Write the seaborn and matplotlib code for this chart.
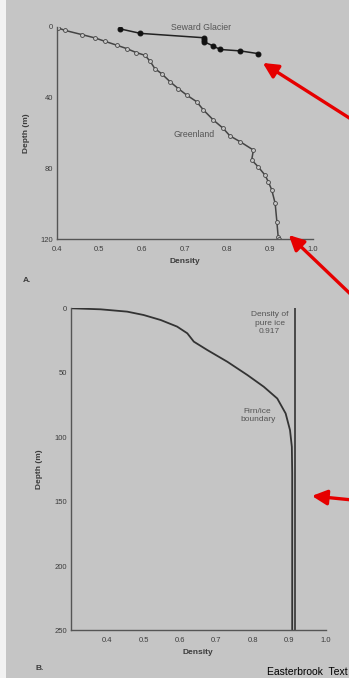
import numpy as np
import matplotlib.pyplot as plt
import seaborn as sns
import pandas as pd
from matplotlib.patches import Rectangle

# --Panel A : Greenland profile (open circles)
gl_density = [0.404, 0.419, 0.459, 0.490, 0.513, 0.541, 0.564, 0.587, 0.607, 0.619,
              0.630, 0.646, 0.666, 0.685, 0.705, 0.728, 0.744, 0.767, 0.790, 0.806,
              0.830, 0.861, 0.857, 0.872, 0.888, 0.896, 0.904, 0.912, 0.916, 0.919,
              0.920]
gl_depth = [0.6, 1.9, 4.3, 6.2, 8.1, 10.3, 12.2, 14.5, 16.0, 19.4,
            23.5, 26.4, 31.0, 34.8, 38.5, 42.2, 46.9, 52.5, 57.2, 61.5,
            64.8, 69.5, 75.1, 78.9, 83.6, 87.4, 92.0, 99.6, 109.9, 118.4,
            120.0]

# --Panel A : Seward Glacier profile (filled circles)
sw_density = [0.549, 0.596, 0.746, 0.746, 0.746, 0.766, 0.783, 0.830, 0.871]
sw_depth = [1.1, 3.6, 6.1, 7.4, 8.4, 10.6, 12.7, 13.5, 15.0]

# --Panel B : smooth firn curve
fb_density = [0.301, 0.382, 0.455, 0.500, 0.547, 0.592, 0.620, 0.638, 0.675, 0.730,
              0.785, 0.830, 0.867, 0.890, 0.902, 0.907, 0.908, 0.908]
fb_depth = [0, 0.8, 2.6, 5.2, 9.1, 14.2, 19.4, 25.9, 32.4, 41.5,
            51.8, 60.9, 70.0, 81.6, 94.6, 107.5, 128, 250]
ice_density = 0.917

a_xticks = [0.4, 0.5, 0.6, 0.7, 0.8, 0.9, 1.0]
a_yticks = [0, 40, 80, 120]
b_xticks = [0.4, 0.5, 0.6, 0.7, 0.8, 0.9, 1.0]
b_yticks = [0, 50, 100, 150, 200, 250]
b_yminor = list(range(0, 251, 10))

bg = "#c5c5c5"
ink = "#3c3c3c"

sns.set_style("white")
plt.rcParams["font.family"] = ["Liberation Sans", "DejaVu Sans"]
plt.rcParams["axes.edgecolor"] = "#555555"
plt.rcParams["axes.linewidth"] = 1.0
plt.rcParams["xtick.color"] = "#555555"
plt.rcParams["ytick.color"] = "#555555"
plt.rcParams["xtick.labelcolor"] = ink
plt.rcParams["ytick.labelcolor"] = ink

gl = pd.DataFrame({"density": gl_density, "depth": gl_depth})
sw = pd.DataFrame({"density": sw_density, "depth": sw_depth})
fb = pd.DataFrame({"density": fb_density, "depth": fb_depth})

fig = plt.figure(figsize=(3.49, 6.78), dpi=100, facecolor=bg)
fig.add_artist(Rectangle((0, 0), 6 / 349, 1, transform=fig.transFigure,
                         facecolor="#f2f2f2", edgecolor="none"))


def style_axes(ax):
    #   common look of both panels
    ax.set_facecolor(bg)
    sns.despine(ax=ax)
    ax.tick_params(direction="in", length=4, width=0.9, labelsize=5.5)
    ax.tick_params(axis="y", pad=2.5)
    ax.tick_params(axis="x", pad=4.5)


###     --Panel A
axA = fig.add_axes([0.1625, 0.6468, 0.7335, 0.3134])
sns.lineplot(data=gl, x="density", y="depth", ax=axA, sort=False, estimator=None,
             color="#444444", lw=1.1, marker="o", markersize=2.8,
             markerfacecolor=bg, markeredgecolor="#444444", markeredgewidth=0.6)
sns.lineplot(data=sw, x="density", y="depth", ax=axA, sort=False, estimator=None,
             color="#222222", lw=1.1, marker="o", markersize=3.5,
             markerfacecolor="#111111", markeredgecolor="#111111")
axA.set_xlim(0.4, 1.0)
axA.set_ylim(120, 0)
axA.set_xticks(a_xticks)
axA.set_xticklabels([f"{v:.1f}" for v in a_xticks])
axA.set_yticks(a_yticks)
style_axes(axA)
axA.set_xlabel("Density", fontsize=6, fontweight="bold", color=ink, labelpad=4)
axA.set_ylabel("Depth (m)", fontsize=6, fontweight="bold", color=ink, labelpad=8)
axA.text(0.739, 0.4, "Seward Glacier", fontsize=6.3, color="#555555", ha="center", va="center")
axA.text(0.723, 61, "Greenland", fontsize=6.3, color="#555555", ha="center", va="center")

###     --Panel B
axB = fig.add_axes([0.2026, 0.0701, 0.7307, 0.4752])
sns.lineplot(data=fb, x="density", y="depth", ax=axB, sort=False, estimator=None,
             color="#333333", lw=1.3)
axB.axvline(ice_density, color="#333333", lw=1.2)
axB.set_xlim(0.3, 1.0)
axB.set_ylim(250, 0)
axB.set_xticks(b_xticks)
axB.set_xticklabels([f"{v:.1f}" for v in b_xticks])
axB.set_yticks(b_yticks)
axB.set_yticks(b_yminor, minor=True)
style_axes(axB)
axB.tick_params(which="minor", direction="in", length=4, width=0.9)
axB.set_xlabel("Density", fontsize=6, fontweight="bold", color=ink, labelpad=4)
axB.set_ylabel("Depth (m)", fontsize=6, fontweight="bold", color=ink, labelpad=8)
axB.text(0.846, 11.6, "Density of\npure ice\n0.917", fontsize=6, color="#555555",
         ha="center", va="center", linespacing=1.25)
axB.text(0.813, 83, "Firn/ice\nboundary", fontsize=6, color="#555555",
         ha="center", va="center", linespacing=1.25)

###     --Panel letters and source
fig.text(23 / 349, 1 - 281 / 678, "A.", fontsize=6, fontweight="bold", color=ink, va="center")
fig.text(35 / 349, 1 - 668 / 678, "B.", fontsize=6, fontweight="bold", color=ink, va="center")
fig.text(348 / 349, 1 - 672 / 678, "Easterbrook  Text", fontsize=7.5, color="black",
         va="center", ha="right")

###     --Red arrows pointing at the curves
red = "#e60000"
arrow_kw = dict(arrowstyle="-|>,head_length=0.9,head_width=0.45", color=red, lw=2.4,
                shrinkA=0, shrinkB=0)
axA.annotate("", xy=(0.883, 20.3), xycoords="data",
             xytext=(1.01, 1 - 120 / 678), textcoords="figure fraction", arrowprops=arrow_kw)
axA.annotate("", xy=(0.944, 117.5), xycoords="data",
             xytext=(1.01, 1 - 296 / 678), textcoords="figure fraction", arrowprops=arrow_kw)
axB.annotate("", xy=(0.962, 145.6), xycoords="data",
             xytext=(1.01, 1 - 500 / 678), textcoords="figure fraction", arrowprops=arrow_kw)

fig.savefig("out.png", dpi=100, facecolor=bg)
